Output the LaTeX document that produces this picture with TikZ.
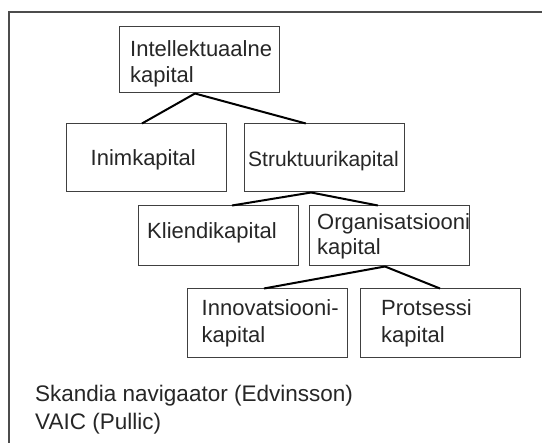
\documentclass[tikz,border=0pt]{standalone}
\usepackage{fontspec}
\setmainfont{Liberation Sans}
\usetikzlibrary{calc}

\tikzset{
  box/.style={draw=black!75, line width=1pt, inner sep=0pt, rectangle,
              minimum width=160pt},
  label text/.style={anchor=base west, inner sep=0pt, text=black!85,
                     font=\fontsize{22}{26}\selectfont},
  link/.style={draw=black, line width=2pt},
  frame/.style={draw=black!70, line width=1.3pt},
}

\begin{document}
\begin{tikzpicture}[x=1pt, y=-1pt]
  \useasboundingbox (0,0) rectangle (542,443);

  % outer frame (top and left sides only)
  \draw[frame] (542,12) -- (9,12) -- (9,443);

  % boxes of the hierarchy
  \node[box, minimum height=66pt] (intel) at (199,60)    {};
  \node[box, minimum height=68pt] (inim)  at (146,158)   {};
  \node[box, minimum height=68pt] (struk) at (324,158)   {};
  \node[box, minimum height=60pt] (klien) at (218,236)   {};
  \node[box, minimum height=60pt] (orga)  at (389,236)   {};
  \node[box, minimum height=69pt] (innov) at (267,323.5) {};
  \node[box, minimum height=69pt] (prots) at (440,323.5) {};

  % box texts
  \node[label text] (intel1) at (130,57)  {Intellektuaalne};
  \node[label text] (intel2) at (130,83)  {kapital};
  \node[label text] (inimt)  at (90.5,166) {Inimkapital};
  \node[label text, font=\fontsize{21}{24}\selectfont] (strukt) at (248,167) {Struktuurikapital};
  \node[label text] (klient) at (147,238.5) {Kliendikapital};
  \node[label text] (orga1)  at (317,230) {Organisatsiooni};
  \node[label text] (orga2)  at (317,255) {kapital};
  \node[label text] (innov1) at (201.5,316) {Innovatsiooni-};
  \node[label text] (innov2) at (201.5,343) {kapital};
  \node[label text] (prots1) at (381,316) {Protsessi};
  \node[label text] (prots2) at (381,343) {kapital};

  % connectors
  \coordinate (intelB) at ($(intel.south west)!0.475!(intel.south east)$);
  \draw[link] (intelB) -- ($(inim.north west)!0.475!(inim.north east)$);
  \draw[link] (intelB) -- ($(struk.north west)!0.387!(struk.north east)$);

  \coordinate (strukB) at ($(struk.south west)!0.42!(struk.south east)$);
  \draw[link] (strukB) -- ($(klien.north west)!0.587!(klien.north east)$);
  \draw[link] (strukB) -- ($(orga.north west)!0.431!(orga.north east)$);

  \coordinate (orgaB) at ($(orga.south west)!0.475!(orga.south east)$);
  \draw[link] (orgaB) -- ($(innov.north west)!0.481!(innov.north east)$);
  \draw[link] (orgaB) -- ($(prots.north west)!0.5!(prots.north east)$);

  % notes below the hierarchy
  \node[label text, font=\fontsize{22.5}{26}\selectfont] (skandia) at (35,402) {Skandia navigaator (Edvinsson)};
  \node[label text, font=\fontsize{22.5}{26}\selectfont] (vaic)    at (35,430) {VAIC (Pullic)};
\end{tikzpicture}
\end{document}
